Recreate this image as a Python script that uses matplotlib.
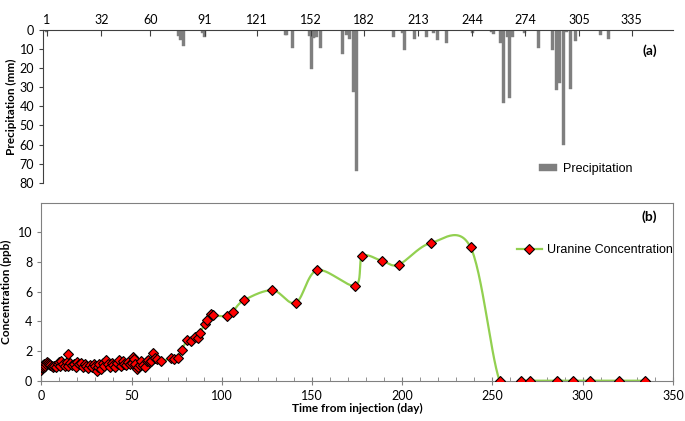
import matplotlib
matplotlib.use("Agg")
import matplotlib.pyplot as plt
import numpy as np

# precipitation (day of year, mm)
rain_day = [1, 76, 77, 79, 90, 91, 137, 138, 141, 151, 152, 153, 154, 155, 157,
            170, 172, 174, 176, 178, 199, 204, 205, 211, 218, 222, 224, 229, 244,
            255, 256, 260, 262, 264, 265, 267, 274, 282, 290, 292, 294, 296, 298,
            300, 303, 317, 322]
rain_mm = [0.8, 3, 5, 8.5, 1.5, 3.5, 2.5, 2.8, 9.6, 3.2, 20.3, 4, 3.5, 3.5, 9.4,
           12.5, 2.5, 4.8, 32.3, 74, 3.4, 1.8, 10.3, 4.8, 3.4, 1.5, 5, 6.7, 1.5,
           1, 2, 6.6, 38.4, 3.4, 35.7, 3.7, 1.8, 9.4, 10.6, 31.3, 28, 60.4, 1.3,
           30.9, 5.6, 2.6, 4.7]
month_ticks = [1, 32, 60, 91, 121, 152, 182, 213, 244, 274, 305, 335]

# uranine concentration, early dense sampling (day, ppb)
early_day = [0, 0.3, 0.6, 1, 1.3, 1.7, 2, 2.5, 3, 3.5, 4, 5, 6, 6.5, 7, 8, 9, 10,
             10.5, 11, 12, 13, 14, 14.6, 15, 16, 17, 18, 19, 20, 21, 22, 23, 24,
             25, 26, 27, 28, 29, 30, 30.7, 31.5, 32, 33, 34, 35, 35.8, 37, 38, 39,
             40, 41, 42, 42.8, 44, 45, 46, 47, 48, 49, 50, 50.6, 51.5, 52.2, 52.8,
             53.5, 54.5, 55.3, 56.5, 57.5, 58.3, 59.2, 60, 61, 61.7, 63, 63.9, 66.1]
early_ppb = [0.75, 0.85, 0.95, 1.05, 0.9, 1.1, 1.0, 1.15, 1.28, 1.2, 1.15, 1.05,
             1.0, 0.95, 1.0, 0.95, 1.1, 1.25, 1.0, 1.3, 1.1, 1.0, 1.25, 1.77, 1.0,
             1.2, 1.05, 1.15, 0.95, 1.25, 1.1, 1.2, 0.95, 1.15, 1.0, 0.85, 1.05,
             0.9, 1.1, 1.0, 0.65, 0.9, 1.1, 0.8, 1.2, 1.0, 1.42, 1.1, 0.95, 1.2,
             1.05, 0.95, 1.2, 1.4, 1.0, 1.3, 1.15, 1.05, 1.25, 1.1, 1.2, 1.6, 1.45,
             1.1, 0.77, 0.95, 1.05, 1.3, 1.05, 0.95, 1.3, 1.4, 1.25, 1.3, 1.84,
             1.5, 1.45, 1.32]
# later sampling
late_day = [71.6, 73.6, 75.9, 77.9, 80.9, 82.9, 85.1, 86.6, 87.9, 90.6, 92.1,
            93.8, 94.9, 103, 106, 112.4, 128.1, 141, 152.8, 173.9, 177.9, 189,
            198.1, 215.8, 237.9, 254, 266, 271, 285.7, 294.8, 304, 320, 334.8]
late_ppb = [1.5, 1.45, 1.55, 2.1, 2.74, 2.67, 2.96, 2.9, 3.23, 3.81, 4.08, 4.49,
            4.42, 4.35, 4.64, 5.43, 6.1, 5.25, 7.45, 6.41, 8.38, 8.07, 7.83, 9.28,
            8.99, 0, 0, 0, 0, 0, 0, 0, 0]


def smooth_line(x, y, sx, sy, n=30):
    # excel-like smoothed line (catmull-rom as bezier), done in pixel-ish units
    p = np.column_stack([np.asarray(x) * sx, np.asarray(y) * sy])
    pts = []
    for i in range(len(p) - 1):
        p0 = p[i - 1] if i > 0 else p[i]
        p3 = p[i + 2] if i + 2 < len(p) else p[i + 1]
        c1 = p[i] + (p[i + 1] - p0) / 6
        c2 = p[i + 1] - (p3 - p[i]) / 6
        t = np.linspace(0, 1, n)[:, None]
        b = ((1 - t) ** 3) * p[i] + 3 * ((1 - t) ** 2) * t * c1 \
            + 3 * (1 - t) * t ** 2 * c2 + t ** 3 * p[i + 1]
        pts.append(b)
    pts = np.vstack(pts)
    return pts[:, 0] / sx, pts[:, 1] / sy


tick_font = "Lato"
leg_font = "Liberation Sans"
gray = "#7f7f7f"
tsize = 9
lsize = 8.5

fig = plt.figure(figsize=(6.85, 4.21), dpi=100)

# ---- (a) precipitation
ax1 = fig.add_axes([0.0632, 0.566, 0.919, 0.3627])
ax1.bar(rain_day, rain_mm, width=1.7, color=gray, edgecolor=gray, linewidth=0.3,
        label="Precipitation")
ax1.set_xlim(-1.1, 358.5)
ax1.set_ylim(80, 0)
ax1.set_yticks(range(0, 81, 10))
ax1.set_xticks(month_ticks)
ax1.xaxis.tick_top()
ax1.tick_params(axis="x", direction="in", length=4, color="#404040", pad=3,
                labelsize=tsize)
ax1.tick_params(axis="y", direction="out", length=3, color="#404040",
                labelsize=tsize)
for lab in ax1.get_xticklabels() + ax1.get_yticklabels():
    lab.set_fontfamily(tick_font)
ax1.spines["right"].set_visible(False)
ax1.spines["bottom"].set_visible(False)
ax1.spines["top"].set_color("#404040")
ax1.spines["left"].set_color("#404040")
ax1.set_ylabel("Precipitation (mm)", fontsize=lsize, fontweight="bold",
               fontfamily=tick_font, labelpad=2)
ax1.text(0.975, 0.84, "(a)", transform=ax1.transAxes, fontsize=10,
         fontweight="bold", fontfamily=tick_font, ha="right")
ax1.legend(loc="lower left", bbox_to_anchor=(0.77, -0.02), frameon=False,
           prop={"family": leg_font, "size": 9}, handlelength=1.4,
           handleheight=0.5, handletextpad=0.5)

# ---- (b) concentration
ax2 = fig.add_axes([0.0603, 0.0957, 0.922, 0.4228])
all_day = early_day + late_day
all_ppb = early_ppb + late_ppb
sx, sy = 1.806, 14.87
lx, ly = smooth_line(all_day, all_ppb, sx, sy)
ax2.plot(lx, ly, color="#92d050", lw=1.6, zorder=2)
ax2.plot(all_day, all_ppb, ls="none", marker="D", ms=5.5, mfc="red", mec="black",
         mew=0.8, zorder=3)
ax2.plot([], [], color="#92d050", lw=1.6, marker="D", ms=5.5, mfc="red",
         mec="black", mew=0.8, label="Uranine Concentration")
ax2.set_xlim(0, 350)
ax2.set_ylim(0, 12)
ax2.set_xticks(range(0, 351, 50))
ax2.set_xticks(range(0, 351, 10), minor=True)
ax2.set_yticks(range(0, 11, 2))
ax2.tick_params(axis="x", which="major", direction="inout", length=6,
                color="#808080", labelsize=tsize)
ax2.tick_params(axis="x", which="minor", direction="in", length=3,
                color="#808080")
ax2.tick_params(axis="y", direction="out", length=3, color="#808080",
                labelsize=tsize)
for lab in ax2.get_xticklabels() + ax2.get_yticklabels():
    lab.set_fontfamily(tick_font)
for s in ax2.spines.values():
    s.set_color("#808080")
ax2.set_xlabel("Time from injection (day)", fontsize=lsize, fontweight="bold",
               fontfamily=tick_font, labelpad=1)
ax2.set_ylabel("Concentration (ppb)", fontsize=lsize, fontweight="bold",
               fontfamily=tick_font, labelpad=4)
ax2.text(0.975, 0.9, "(b)", transform=ax2.transAxes, fontsize=10,
         fontweight="bold", fontfamily=tick_font, ha="right")
ax2.legend(loc="center left", bbox_to_anchor=(0.745, 0.734), frameon=False,
           prop={"family": leg_font, "size": 9}, handlelength=2.0,
           handletextpad=0.4, borderaxespad=0)

fig.savefig("out.png", dpi=100)
